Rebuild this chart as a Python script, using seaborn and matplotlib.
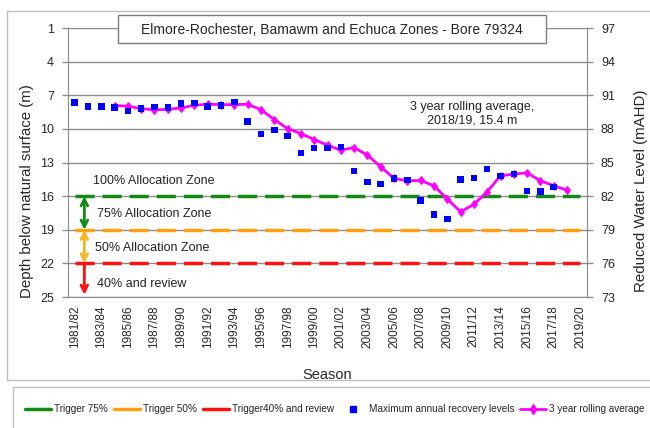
import numpy as np
import pandas as pd
import matplotlib
matplotlib.use("Agg")
import matplotlib.pyplot as plt
from matplotlib.patches import Rectangle
from matplotlib.lines import Line2D
import seaborn as sns

sns.set_style("white")
plt.rcParams['font.family'] = ['Liberation Sans', 'DejaVu Sans']

# seasons on the category axis
seasons = ["%d/%02d" % (y, (y + 1) % 100) for y in range(1981, 2020)]

# maximum annual recovery levels (depth, m), 1981/82 - 2017/18
max_recovery = [7.65, 8.0, 8.0, 8.07, 8.42, 8.19, 8.04, 8.1, 7.74, 7.71,
                8.01, 7.92, 7.6, 9.33, 10.44, 10.09, 10.62, 12.16, 11.72, 11.72,
                11.63, 13.77, 14.75, 14.93, 14.42, 14.54, 16.37, 17.65, 18.03, 14.5,
                14.36, 13.58, 14.18, 14.03, 15.52, 15.6, 15.17]

# 3 year rolling average (depth, m), 1984/85 - 2018/19
rolling_avg = [7.92, 7.97, 8.19, 8.3, 8.25, 8.13, 7.89, 7.8, 7.83, 7.83,
               7.8, 8.28, 9.17, 9.97, 10.41, 10.95, 11.45, 11.9, 11.66, 12.34,
               13.38, 14.42, 14.63, 14.6, 15.07, 16.26, 17.39, 16.73, 15.6, 14.18,
               14.03, 13.92, 14.63, 15.07, 15.46]
rolling_start = 3

# trigger levels (depth, m)
trigger_75 = 16
trigger_50 = 19
trigger_40 = 22

green = '#138a13'
orange = '#ffa010'
red = '#ff1010'
grey = '#8c8c8c'
txt = '#222222'

df_max = pd.DataFrame({'x': np.arange(len(max_recovery)), 'depth': max_recovery})
df_avg = pd.DataFrame({'x': np.arange(rolling_start, rolling_start + len(rolling_avg)),
                       'depth': rolling_avg})
xs = np.arange(len(seasons))

fig = plt.figure(figsize=(6.5, 4.28), dpi=100)
ax = fig.add_axes([0.1046, 0.306, 0.7985, 0.6285])

ax.yaxis.grid(True, color=grey, lw=1)
ax.set_axisbelow(True)

dash = (0, (5.5, 2.3))
ax.plot(xs, [trigger_75] * len(xs), color=green, lw=2.5, ls=dash)
ax.plot(xs, [trigger_50] * len(xs), color=orange, lw=2.5, ls=dash)
ax.plot(xs, [trigger_40] * len(xs), color=red, lw=2.5, ls=dash)

sns.scatterplot(data=df_max, x='x', y='depth', marker='s', s=22, color='#0000ff',
                edgecolor='none', ax=ax, zorder=4, legend=False)
sns.lineplot(data=df_avg, x='x', y='depth', color='#ff00ff', lw=2, marker='d',
             markersize=4.5, markeredgecolor='#ff00ff', ax=ax, zorder=3, legend=False)

# zone arrows
ax_x = 0.73
ax.annotate('', xy=(ax_x, trigger_50), xytext=(ax_x, trigger_75),
            arrowprops=dict(arrowstyle='<->', color=green, lw=2, mutation_scale=12, shrinkA=0, shrinkB=0))
ax.annotate('', xy=(ax_x, trigger_40), xytext=(ax_x, trigger_50),
            arrowprops=dict(arrowstyle='<->', color='#f2b824', lw=2, mutation_scale=12, shrinkA=0, shrinkB=0))
ax.annotate('', xy=(ax_x, 24.8), xytext=(ax_x, trigger_40),
            arrowprops=dict(arrowstyle='->', color=red, lw=2, mutation_scale=12, shrinkA=0, shrinkB=0))

ax.text(1.38, 14.63, '100% Allocation Zone', fontsize=9, va='center', color=txt)
ax.text(1.7, 17.55, '75% Allocation Zone', fontsize=9, va='center', color=txt)
ax.text(1.53, 20.6, '50% Allocation Zone', fontsize=9, va='center', color=txt)
ax.text(1.66, 23.8, '40% and review', fontsize=9, va='center', color=txt)
ax.text(29.85, 8.66, '3 year rolling average,\n2018/19, 15.4 m', fontsize=9,
        ha='center', va='center', color=txt, linespacing=1.1)

ax.set_xlim(-0.5, len(seasons) - 0.5)
ax.set_ylim(25, 1)
ax.set_yticks(range(1, 26, 3))
ax.set_xticks(xs[::2])
ax.set_xticklabels(seasons[::2], rotation=90, fontsize=8.5)
ax.set_xticks(np.arange(-0.5, len(seasons), 1), minor=True)
ax.tick_params(axis='x', which='major', length=0, pad=6)
ax.tick_params(axis='x', which='minor', length=4, color=grey, width=1)
ax.tick_params(axis='y', length=4, color=grey, width=1, labelsize=9, pad=6)
ax.set_xlabel('Season', fontsize=10.5, labelpad=14)
ax.set_ylabel('')
for s in ['left', 'bottom']:
    ax.spines[s].set_color(grey)
ax.spines['top'].set_visible(False)
ax.spines['right'].set_visible(False)

ax2 = ax.twinx()
ax2.set_ylim(73, 97)
ax2.set_yticks(range(73, 98, 3))
ax2.tick_params(axis='y', length=4, color=grey, width=1, labelsize=9, pad=6)
for s in ['left', 'top', 'bottom']:
    ax2.spines[s].set_visible(False)
ax2.spines['right'].set_color(grey)

# axis titles, placed like the original chart
fig.text(27 / 650, 1 - 191 / 428, 'Depth below natural surface (m)', rotation=90,
         fontsize=10.8, ha='center', va='center')
fig.text(641 / 650, 1 - 191 / 428, 'Reduced Water Level (mAHD)', rotation=90,
         fontsize=10.8, ha='center', va='center')

# outer chart frame and title box
fig.patches.append(Rectangle((7 / 650, 1 - 380 / 428), 1.0, (380 - 11) / 428,
                             transform=fig.transFigure, fill=False, edgecolor='#bfbfbf', lw=1))
fig.patches.append(Rectangle((118 / 650, 1 - 43 / 428), 428 / 650, 28 / 428,
                             transform=fig.transFigure, facecolor='white', edgecolor='#7f7f7f', lw=1, zorder=5))
fig.text(332 / 650, 1 - 29.5 / 428, 'Elmore-Rochester, Bamawm and Echuca Zones - Bore 79324',
         fontsize=10, ha='center', va='center', zorder=6)

# legend box
fig.patches.append(Rectangle((13 / 650, -0.1), 1.0, 0.1 + (428 - 387) / 428,
                             transform=fig.transFigure, fill=False, edgecolor='#bfbfbf', lw=1))
leg_handles = [Line2D([], [], color=green, lw=2.5),
               Line2D([], [], color=orange, lw=2.5),
               Line2D([], [], color=red, lw=2.5),
               Line2D([], [], ls='none', marker='s', color='#0000ff', markersize=4),
               Line2D([], [], color='#ff00ff', lw=2, marker='d', markersize=5)]
labels = ['Trigger 75%', 'Trigger 50%', 'Trigger40% and review',
          'Maximum annual recovery levels', '3 year rolling average']
fig.legend(leg_handles, labels, loc='center', bbox_to_anchor=(0.515, 1 - 409 / 428),
           ncol=5, frameon=False, fontsize=7.2, handlelength=2.6, columnspacing=0.6,
           handletextpad=0.3)

fig.savefig('out.png', dpi=100)
